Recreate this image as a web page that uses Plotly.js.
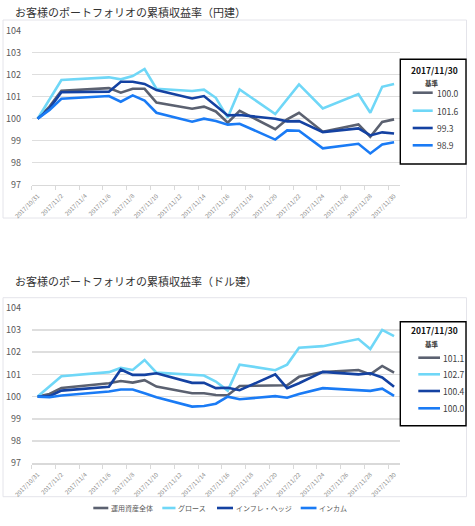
<!DOCTYPE html>
<html>
<head>
<meta charset="utf-8">
<script src="https://cdn.plot.ly/plotly-3.0.1.min.js"></script>
<style>html,body{margin:0;padding:0;background:#fff;}#chart{width:475px;height:526px;}</style>
</head>
<body>
<div id="chart"></div>
<script>
// ---- data ----
const dates = ['2017-10-31','2017-11-01','2017-11-02','2017-11-06','2017-11-07','2017-11-08','2017-11-09','2017-11-10','2017-11-13','2017-11-14','2017-11-15','2017-11-16','2017-11-17','2017-11-20','2017-11-21','2017-11-22','2017-11-24','2017-11-27','2017-11-28','2017-11-29','2017-11-30'];
const seriesNames = ['運用資産全体','グロース','インフレ・ヘッジ','インカム'];
const titleYen = 'お客様のポートフォリオの累積収益率（円建）';
const titleUsd = 'お客様のポートフォリオの累積収益率（ドル建）';
const baseLabel = '基準';

// 円建
const yenTotal     = [100, 100.55, 101.27, 101.39, 101.18, 101.36, 101.36, 100.73, 100.45, 100.55, 100.33, 99.82, 100.36, 99.52, 99.97, 100.27, 99.41, 99.74, 99.18, 99.85, 99.97];
const yenGrowth    = [100, 100.85, 101.76, 101.88, 101.79, 101.94, 102.26, 101.36, 101.26, 101.32, 100.95, 100.05, 101.33, 100.21, 100.88, 101.56, 100.47, 101.12, 100.27, 101.45, 101.58];
const yenInflation = [100, 100.47, 101.20, 101.23, 101.68, 101.68, 101.58, 101.30, 100.92, 101.03, 100.59, 100.15, 100.17, 100.00, 99.88, 99.89, 99.39, 99.56, 99.24, 99.38, 99.33];
const yenIncome    = [100, 100.40, 100.91, 101.03, 100.77, 101.06, 100.82, 100.27, 99.86, 100.00, 99.90, 99.73, 99.77, 99.05, 99.47, 99.45, 98.65, 98.86, 98.42, 98.83, 98.93];

// ドル建
const usdTotal     = [100, 100.12, 100.39, 100.60, 100.70, 100.63, 100.74, 100.45, 100.15, 100.15, 100.07, 100.06, 100.48, 100.48, 100.51, 100.89, 101.11, 101.20, 101.00, 101.38, 101.08];
const usdGrowth    = [100, 100.45, 100.92, 101.10, 101.29, 101.20, 101.65, 101.08, 100.96, 100.95, 100.68, 100.27, 101.44, 101.19, 101.44, 102.20, 102.27, 102.59, 102.14, 103.00, 102.72];
const usdInflation = [100, 100.02, 100.27, 100.44, 101.22, 100.98, 100.98, 101.05, 100.62, 100.62, 100.38, 100.40, 100.29, 101.00, 100.38, 100.60, 101.11, 101.00, 101.05, 100.86, 100.44];
const usdIncome    = [100, 99.97, 100.05, 100.23, 100.32, 100.32, 100.15, 99.97, 99.55, 99.58, 99.68, 100.00, 99.88, 100.02, 99.95, 100.12, 100.38, 100.30, 100.26, 100.36, 100.03];

const tickDates  = ['2017-10-31','2017-11-02','2017-11-04','2017-11-06','2017-11-08','2017-11-10','2017-11-12','2017-11-14','2017-11-16','2017-11-18','2017-11-20','2017-11-22','2017-11-24','2017-11-26','2017-11-28','2017-11-30'];
const tickLabels = ['2017/10/31','2017/11/2','2017/11/4','2017/11/6','2017/11/8','2017/11/10','2017/11/12','2017/11/14','2017/11/16','2017/11/18','2017/11/20','2017/11/22','2017/11/24','2017/11/26','2017/11/28','2017/11/30'];
const yTicks = [97, 98, 99, 100, 101, 102, 103, 104];

// ---- styles ----
const colors = ['#5b6170', '#6fd7f7', '#1442a2', '#1a7bf5'];
const FONT = '"Noto Sans CJK JP", "Noto Sans", sans-serif';
const W = 475, H = 526;
const px = x => x / W;
const py = y => 1 - y / H;

function halfDayBefore(d) {
  const t = new Date(d + 'T00:00:00Z').getTime() - 12 * 3600 * 1000;
  const dt = new Date(t);
  const p = n => String(n).padStart(2, '0');
  return dt.getUTCFullYear() + '-' + p(dt.getUTCMonth() + 1) + '-' + p(dt.getUTCDate()) + ' ' + p(dt.getUTCHours()) + ':00';
}
const tickVals = tickDates.map(halfDayBefore);
const xRange = [halfDayBefore(dates[0]), halfDayBefore(dates[dates.length - 1]).replace(/-29 12/, '-30 12')];

const yenSeries = [yenTotal, yenGrowth, yenInflation, yenIncome];
const usdSeries = [usdTotal, usdGrowth, usdInflation, usdIncome];

const traces = [];
yenSeries.forEach((ys, i) => traces.push({
  x: dates, y: ys, type: 'scatter', mode: 'lines', name: seriesNames[i],
  line: {color: colors[i], width: 2.6}, xaxis: 'x', yaxis: 'y', showlegend: false
}));
usdSeries.forEach((ys, i) => traces.push({
  x: dates, y: ys, type: 'scatter', mode: 'lines', name: seriesNames[i],
  line: {color: colors[i], width: 2.6}, xaxis: 'x2', yaxis: 'y2', showlegend: false
}));

function xAxis(domainY, anchor) {
  return {
    type: 'date', domain: [px(31.7), px(400)], anchor: anchor,
    range: ['2017-10-30 12:00', '2017-11-30 12:00'],
    tickmode: 'array', tickvals: tickVals, ticktext: tickLabels,
    tickangle: -45, ticklabelshift: 6,
    tickfont: {family: FONT, size: 6, color: '#8a8a8a'},
    ticks: 'outside', ticklen: 4, tickcolor: '#d9d9d9', tickwidth: 1,
    showline: true, linecolor: '#d9d9d9', linewidth: 1.5,
    showgrid: false, zeroline: false, fixedrange: true
  };
}
function yAxis(domain, anchor) {
  return {
    domain: domain, anchor: anchor, range: [97, 104],
    tickmode: 'array', tickvals: yTicks,
    tickfont: {family: FONT, size: 9, color: '#595959'},
    ticks: 'outside', ticklen: 8, tickcolor: 'rgba(0,0,0,0)',
    showgrid: true, gridcolor: '#dedede', gridwidth: 1.5,
    zeroline: false, showline: false, fixedrange: true
  };
}

const shapes = [];
const annotations = [];

// outer chart frames
[[3, 20, 466.5, 218], [3, 297.7, 466.5, 496.7]].forEach(r => shapes.push({
  type: 'rect', xref: 'paper', yref: 'paper', layer: 'below',
  x0: px(r[0]), x1: px(r[2]), y0: py(r[3]), y1: py(r[1]),
  line: {color: '#e4e4ea', width: 1}, fillcolor: 'rgba(0,0,0,0)'
}));

// titles
[[titleYen, 12], [titleUsd, 281]].forEach(t => annotations.push({
  text: t[0], xref: 'paper', yref: 'paper', x: px(12.5), y: py(t[1]),
  xanchor: 'left', yanchor: 'middle', showarrow: false,
  font: {family: FONT, size: 11, color: '#333333'}
}));

// right-side value boxes
const boxes = [
  {series: yenSeries, box: [400.3, 59.3, 466, 164], head: 69.5, base: 82.7, items: [92.7, 110.7, 128, 145.3], lx: [412.7, 432.7], tx: 434.5},
  {series: usdSeries, box: [400.3, 321.7, 466, 425.7], head: 330, base: 344.3, items: [357.7, 374.3, 391, 408.3], lx: [418.3, 440], tx: 440.7}
];
const headText = dates[dates.length - 1].replace(/-/g, '/');
boxes.forEach(b => {
  shapes.push({type: 'rect', xref: 'paper', yref: 'paper',
    x0: px(b.box[0]), x1: px(b.box[2]), y0: py(b.box[3]), y1: py(b.box[1]),
    line: {color: '#000000', width: 1.4}, fillcolor: '#ffffff'});
  annotations.push({text: '<b>' + headText + '</b>', xref: 'paper', yref: 'paper',
    x: px(434), y: py(b.head), xanchor: 'center', yanchor: 'middle', showarrow: false,
    font: {family: FONT, size: 8.5, color: '#111111'}});
  annotations.push({text: '<b>' + baseLabel + '</b>', xref: 'paper', yref: 'paper',
    x: px(431.7), y: py(b.base), xanchor: 'center', yanchor: 'middle', showarrow: false,
    font: {family: FONT, size: 6.5, color: '#333333'}});
  b.series.forEach((ys, i) => {
    shapes.push({type: 'line', xref: 'paper', yref: 'paper',
      x0: px(b.lx[0]), x1: px(b.lx[1]), y0: py(b.items[i]), y1: py(b.items[i]),
      line: {color: colors[i], width: 2.6}});
    annotations.push({text: ys[ys.length - 1].toFixed(1), xref: 'paper', yref: 'paper',
      x: px(b.tx), y: py(b.items[i]), xanchor: 'left', yanchor: 'middle', showarrow: false,
      font: {family: FONT, size: 8.5, color: '#404040'}});
  });
});

// bottom legend
const legLine = [[93.3, 108.3], [162.3, 175.5], [217, 233], [300.7, 316.5]];
const legY = 508;
seriesNames.forEach((n, i) => {
  shapes.push({type: 'line', xref: 'paper', yref: 'paper',
    x0: px(legLine[i][0]), x1: px(legLine[i][1]), y0: py(legY), y1: py(legY),
    line: {color: colors[i], width: 2.6}});
  annotations.push({text: n, xref: 'paper', yref: 'paper',
    x: px(legLine[i][1] + 0.5), y: py(legY), xanchor: 'left', yanchor: 'middle', showarrow: false,
    font: {family: FONT, size: 7, color: '#595959'}});
});

const layout = {
  width: W, height: H, autosize: false,
  margin: {l: 0, r: 0, t: 0, b: 0, pad: 0},
  paper_bgcolor: '#ffffff', plot_bgcolor: 'rgba(0,0,0,0)',
  showlegend: false,
  font: {family: FONT},
  xaxis: xAxis(null, 'y'),
  yaxis: yAxis([py(184.7), py(30.7)], 'x'),
  xaxis2: xAxis(null, 'y2'),
  yaxis2: yAxis([py(463.3), py(307.7)], 'x2'),
  shapes: shapes,
  annotations: annotations
};

Plotly.newPlot('chart', traces, layout, {displayModeBar: false, staticPlot: true});
</script>
</body>
</html>
